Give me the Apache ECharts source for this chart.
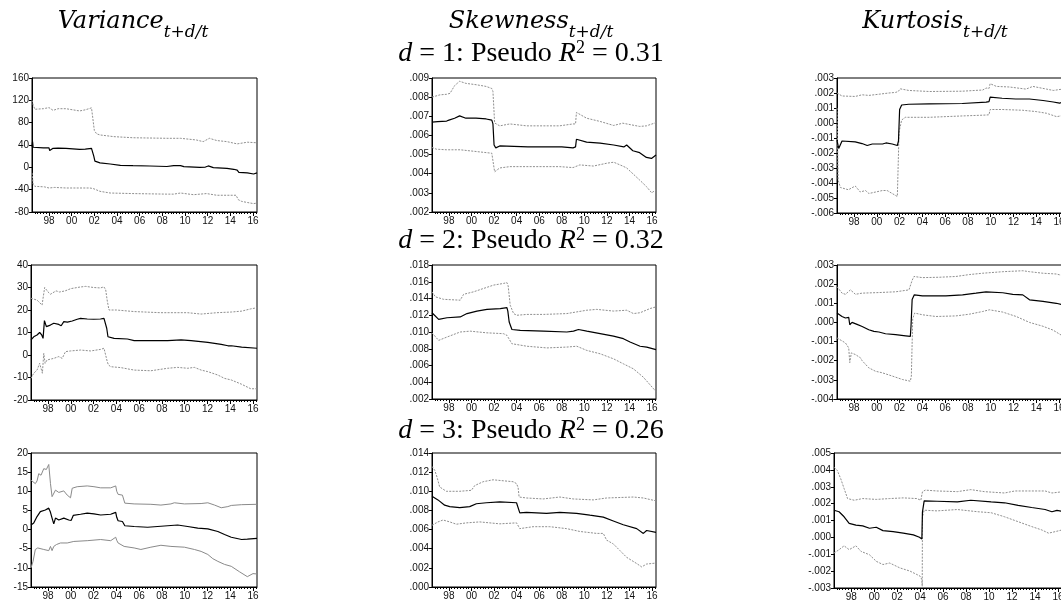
<!DOCTYPE html>
<html><head><meta charset="utf-8">
<script src="https://cdn.jsdelivr.net/npm/echarts@6/dist/echarts.min.js"></script>
<style>html,body{margin:0;padding:0;background:#fff}#c{width:1061px;height:603px}</style>
</head><body><div id="c"></div><script>
// ---- tick labels / titles ----
const xTickYears = [1998,2000,2002,2004,2006,2008,2010,2012,2014,2016];
const xTickText  = ['98','00','02','04','06','08','10','12','14','16'];
const colTitles = ['Variance','Skewness','Kurtosis'];
const subText = 't+d/t';
const rowD = ['1','2','3'];
const rowR2 = ['0.31','0.32','0.26'];

// ---- d = 1 ----
const var1Mid = [[1996.5,37],[1996.55,46],[1996.6,36],[1996.7,35],[1997.5,35],[1998.0,35],[1998.06,30],[1998.36,34],[1998.8,34.5],[1999.5,34],[2000.7,32],[2001.2,32.5],[2001.75,34],[2001.85,33],[2001.95,20],[2002.05,11],[2002.2,9],[2002.5,8],[2003.4,6],[2004.3,3.5],[2005.4,3],[2006.9,2.4],[2008.4,1.5],[2009.0,3],[2009.6,3],[2009.9,1.2],[2011.3,0],[2011.8,0.5],[2012.05,2.5],[2012.5,-0.6],[2013.7,-2],[2014.3,-3.5],[2014.6,-5],[2014.75,-9],[2015.5,-10],[2016.05,-12],[2016.35,-10]];
const var1Up = [[1996.5,120],[1996.6,112],[1996.75,104],[1996.9,104],[1997.5,105],[1998.0,107],[1998.36,102],[1998.8,105],[1999.5,105],[2000.7,101],[2001.2,103],[2001.75,106.5],[2001.9,104],[2002.0,66],[2002.2,60],[2002.5,58],[2003.7,55],[2005.4,53],[2008.4,52],[2009.6,52],[2011.0,49],[2011.6,46],[2012.15,52],[2012.8,48],[2013.7,46],[2014.6,42],[2015.5,45],[2016.35,44]];
const var1Lo = [[1996.5,-10],[1996.6,-30],[1996.75,-34],[1997.6,-35],[1998.0,-37],[1998.06,-40],[1998.5,-36],[1999.5,-37],[2001.6,-37],[2001.9,-38],[2002.5,-43],[2003.4,-46],[2005.4,-47],[2008.4,-48],[2009.0,-48],[2009.6,-46],[2010.75,-49],[2011.9,-47],[2012.8,-50],[2014.5,-50],[2014.7,-58],[2015.0,-61],[2015.5,-63],[2016.05,-65],[2016.35,-64]];

const skw1Mid = [[1996.5,.0067],[1997.0,.00672],[1997.8,.00675],[1998.0,.0068],[1998.5,.0069],[1998.95,.00702],[1999.5,.0069],[2000.4,.0069],[2001.3,.00686],[2001.8,.0068],[2001.9,.0066],[2002.0,.0055],[2002.15,.00535],[2002.5,.00545],[2005,.0054],[2008,.0054],[2009.0,.00535],[2009.22,.0054],[2009.3,.0058],[2010.2,.00565],[2011.4,.0056],[2012.6,.0055],[2013.5,.0054],[2013.75,.0055],[2014.3,.0052],[2014.9,.0051],[2015.5,.00485],[2015.95,.0048],[2016.35,.00498]];
const skw1Up = [[1996.5,.0080],[1997.2,.00812],[1997.8,.00815],[1998.1,.0082],[1998.5,.0086],[1998.95,.00883],[1999.5,.00872],[2000.4,.00865],[2001.3,.00856],[2001.8,.00845],[2001.9,.0083],[2002.05,.00665],[2002.5,.0065],[2003.4,.0066],[2004.9,.0065],[2007.8,.0065],[2009.0,.0066],[2009.22,.0066],[2009.3,.0072],[2010.2,.0069],[2011.4,.00673],[2012.6,.00652],[2013.4,.00664],[2014.9,.00647],[2015.5,.0065],[2016.35,.00667]];
const skw1Lo = [[1996.5,.00537],[1996.9,.00528],[1997.8,.00525],[1999.0,.00525],[2000.4,.00516],[2001.8,.00507],[2001.9,.0050],[2002.05,.0041],[2002.5,.0043],[2003.4,.00437],[2007.8,.00437],[2009.0,.00432],[2009.6,.00446],[2010.8,.0044],[2012.0,.00455],[2012.6,.0046],[2013.4,.0044],[2013.75,.0043],[2014.3,.0040],[2014.9,.00367],[2015.5,.00333],[2015.97,.0030],[2016.35,.00316]];

const krt1Mid = [[1996.5,-.00115],[1996.65,-.0017],[1996.94,-.0012],[1998.1,-.00126],[1998.7,-.00137],[1999.15,-.0015],[1999.6,-.0014],[2000.5,-.0014],[2000.8,-.00133],[2001.35,-.0014],[2001.8,-.0015],[2001.9,-.0012],[2002.0,.0009],[2002.18,.0012],[2002.8,.00125],[2004.6,.00127],[2007.5,.0013],[2009.6,.00139],[2009.85,.00143],[2009.95,.00172],[2011.0,.00165],[2012.2,.0016],[2013.4,.0016],[2014.6,.0015],[2015.5,.0014],[2016.05,.00132],[2016.3,.0014]];
const krt1Up = [[1996.5,.0020],[1996.94,.0018],[1998.1,.00177],[1998.7,.00188],[1999.3,.00184],[2000.2,.00192],[2001.06,.002],[2001.65,.00204],[2001.88,.0021],[2002.05,.00228],[2002.8,.00217],[2004.6,.0021],[2007.5,.00212],[2009.3,.0022],[2009.6,.00233],[2009.85,.0023],[2009.95,.00262],[2010.5,.00244],[2011.65,.0024],[2013.1,.00226],[2013.7,.00244],[2014.9,.00226],[2015.5,.00217],[2016.3,.00226]];
const krt1Lo = [[1996.5,.001],[1996.6,-.0038],[1996.8,-.0043],[1997.5,-.00445],[1998.1,-.0042],[1998.55,-.0046],[1999.0,-.0045],[1999.3,-.0047],[1999.9,-.0046],[2000.5,-.0045],[2000.9,-.0045],[2001.35,-.0047],[2001.8,-.0049],[2001.88,-.005],[2001.95,-.0006],[2002.18,.0002],[2002.5,.00038],[2004.6,.00038],[2007.5,.00047],[2009.6,.00053],[2009.85,.00055],[2009.95,.0009],[2011.0,.0009],[2012.8,.00085],[2014.0,.00076],[2014.9,.00065],[2015.8,.00042],[2016.3,.0005]];

// ---- d = 2 ----
const var2Mid = [[1996.5,6.7],[1996.74,8.1],[1997.03,8.9],[1997.26,10],[1997.44,8.9],[1997.56,7.4],[1997.62,8],[1997.68,15.3],[1997.85,12.6],[1998.2,13.3],[1998.5,14.1],[1998.94,13.6],[1999.15,13],[1999.38,14.8],[1999.7,14.6],[2000.12,15.1],[2000.56,15.9],[2000.85,16.3],[2001.44,16],[2002.0,15.9],[2002.6,16],[2002.91,16.3],[2003.06,15.5],[2003.15,11.9],[2003.26,8.1],[2003.8,7.4],[2004.97,7.1],[2005.56,6.4],[2008.5,6.4],[2009.68,6.7],[2010.56,6.4],[2012.03,5.6],[2013.21,4.7],[2013.8,4.1],[2014.1,4.1],[2015.0,3.5],[2016.35,3.0]];
const var2Up = [[1996.5,25.2],[1997.03,24.4],[1997.47,22.2],[1997.6,23],[1997.7,30],[1998.0,28],[1998.2,27],[1998.7,28.5],[1999.0,28],[1999.5,28.5],[2000.0,29.5],[2000.8,30.2],[2001.3,30.5],[2002.0,30],[2002.6,29.8],[2002.9,30.3],[2003.06,29],[2003.2,24],[2003.35,20],[2004,20],[2005.56,19.3],[2007.9,18.8],[2010.26,18.8],[2011.44,18.2],[2012.82,18.8],[2014.1,19.1],[2015.0,19.5],[2015.8,20.5],[2016.35,21]];
const var2Lo = [[1996.5,-10.4],[1996.74,-8.1],[1997.03,-6.7],[1997.26,-3.7],[1997.38,-5.9],[1997.5,-8.1],[1997.62,0.7],[1997.74,-3.7],[1997.91,-2.2],[1998.5,-1.5],[1998.94,-0.7],[1999.24,-1.5],[1999.53,1.5],[1999.97,1.8],[2000.85,2.2],[2001.74,1.8],[2002.62,2.5],[2002.91,3],[2003.06,2.2],[2003.2,-3],[2003.3,-4.4],[2003.5,-5.2],[2004.38,-5.6],[2005.56,-6.7],[2007.03,-7],[2008.5,-5.9],[2009.38,-5.5],[2010.26,-5.9],[2010.85,-5.5],[2011.44,-6.7],[2012.03,-7.4],[2012.91,-8.9],[2013.5,-10.4],[2014.09,-11.1],[2015.0,-13],[2015.8,-15],[2016.35,-15]];

const skw2Mid = [[1996.5,.0123],[1997.09,.0115],[1997.83,.0117],[1999.0,.0118],[1999.6,.0122],[2000.48,.0125],[2001.37,.0127],[2002.55,.0128],[2003.14,.0129],[2003.22,.0125],[2003.34,.0112],[2003.58,.0103],[2004.32,.0102],[2006.38,.0101],[2008.45,.010],[2009.04,.0101],[2009.48,.0103],[2010.22,.0101],[2011.4,.0098],[2012.58,.0095],[2013.46,.0092],[2014.05,.0088],[2014.94,.0083],[2015.53,.0082],[2016.35,.0079]];
const skw2Up = [[1996.5,.0148],[1996.8,.0142],[1997.53,.0139],[1999.0,.0138],[1999.3,.0145],[2000.19,.0148],[2001.07,.0152],[2001.96,.0156],[2002.84,.0158],[2003.14,.0159],[2003.25,.0155],[2003.43,.0132],[2003.73,.0122],[2004.02,.012],[2004.91,.0121],[2006.38,.0121],[2008.45,.0122],[2009.33,.0124],[2010.22,.0126],[2011.1,.0127],[2012.58,.0125],[2013.76,.0126],[2014.35,.0122],[2014.94,.0123],[2015.82,.0128],[2016.35,.013]];
const skw2Lo = [[1996.5,.0099],[1997.09,.009],[1997.83,.0094],[1999.0,.010],[1999.89,.0101],[2001.37,.0099],[2002.84,.0098],[2003.14,.0096],[2003.28,.0094],[2003.58,.0086],[2004.91,.0083],[2006.68,.0081],[2008.45,.0082],[2009.33,.0083],[2010.22,.0078],[2011.4,.0074],[2012.58,.0068],[2013.46,.0062],[2014.35,.0056],[2015.23,.0046],[2015.82,.0037],[2016.35,.0029]];

const krt2Mid = [[1996.5,.00049],[1996.94,.00031],[1997.24,.00023],[1997.53,.00026],[1997.62,-.00012],[1997.82,.0000],[1998.26,-.0001],[1998.71,-.00021],[1999.29,-.00038],[1999.74,-.00047],[2000.18,-.0005],[2000.76,-.00059],[2001.65,-.00064],[2002.53,-.0007],[2002.94,-.00073],[2003.0,-.0002],[2003.1,.0012],[2003.29,.00144],[2004.0,.00139],[2006.06,.00139],[2007.53,.00144],[2008.71,.00153],[2009.59,.0016],[2011.06,.00155],[2011.94,.00147],[2012.82,.00144],[2013.41,.00118],[2014.59,.0011],[2015.76,.001],[2016.3,.00092]];
const krt2Up = [[1996.5,.00187],[1996.94,.00153],[1997.24,.00147],[1997.68,.0017],[1998.12,.00147],[1998.71,.00153],[2000.18,.00156],[2001.65,.0016],[2002.82,.0017],[2002.97,.0017],[2003.1,.0022],[2003.26,.0024],[2004.0,.00234],[2005.47,.00236],[2006.94,.0024],[2008.12,.0025],[2009.29,.00257],[2011.06,.00265],[2012.82,.0027],[2013.41,.00265],[2014.59,.00257],[2015.76,.00253],[2016.3,.00245]];
const krt2Lo = [[1996.5,-.00081],[1997.24,-.00107],[1997.53,-.00133],[1997.62,-.0021],[1997.76,-.00159],[1998.12,-.00168],[1998.56,-.00185],[1998.71,-.002],[1999.29,-.00237],[1999.88,-.00255],[2000.47,-.00263],[2001.35,-.0028],[2002.24,-.00298],[2002.94,-.00307],[2003.03,-.0028],[2003.15,.0002],[2003.32,.00049],[2004.0,.0004],[2005.18,.00031],[2006.94,.00034],[2008.12,.00043],[2009.29,.00057],[2009.88,.00066],[2011.06,.00054],[2012.24,.00031],[2013.41,.0000],[2014.59,-.0002],[2015.47,-.0004],[2016.3,-.0007]];

// ---- d = 3 ----
const var3Mid = [[1996.5,1.2],[1996.74,1.7],[1997.03,3.4],[1997.32,4.7],[1997.76,5.1],[1998.06,5.6],[1998.15,5.7],[1998.21,4.5],[1998.35,3],[1998.5,1.5],[1998.65,3],[1998.94,2.5],[1999.38,3],[1999.82,2.5],[2000.03,2.4],[2000.21,3.7],[2000.85,4],[2001.44,4.3],[2002.03,4.1],[2002.62,3.8],[2003.5,4],[2003.94,4.5],[2004.03,3.2],[2004.15,2.3],[2004.53,2.1],[2004.74,1],[2005.56,0.8],[2006.74,0.6],[2008.5,1],[2009.38,1.2],[2010.26,0.8],[2011.15,0.4],[2012.03,0.2],[2012.91,-0.5],[2013.5,-1.3],[2014.09,-2],[2015.0,-2.6],[2015.5,-2.5],[2016.35,-2.3]];
const var3Up = [[1996.5,12.9],[1996.88,12],[1997.03,12.7],[1997.18,14.6],[1997.38,14.2],[1997.62,15.9],[1997.85,15.7],[1998.06,17],[1998.15,16.8],[1998.21,12],[1998.35,8.6],[1998.5,8.3],[1998.65,10.3],[1998.94,9.7],[1999.38,10.1],[1999.68,9],[1999.97,8.3],[2000.12,10.8],[2000.56,11.2],[2001.44,11.4],[2002.03,11.2],[2002.62,10.9],[2003.5,10.9],[2003.94,11.4],[2004.03,10],[2004.15,9.2],[2004.53,9.0],[2004.74,6.9],[2005.56,6.7],[2007.03,6.6],[2007.91,6.4],[2008.79,6.7],[2009.09,7],[2009.97,6.7],[2011.44,6.8],[2012.03,7],[2012.62,6.4],[2013.21,5.7],[2013.79,6],[2014.09,6.3],[2015.0,6.5],[2016.35,6.6]];
const var3Lo = [[1996.5,-10],[1996.68,-8.3],[1996.88,-5.2],[1997.09,-4.8],[1997.62,-5.2],[1998.06,-5.5],[1998.21,-4.4],[1998.35,-5.5],[1998.5,-4.4],[1998.74,-3.9],[1999.09,-3.5],[1999.68,-3.5],[2000.26,-3.1],[2001.44,-2.9],[2002.62,-2.6],[2003.5,-2.9],[2003.94,-2.0],[2004.03,-2.8],[2004.15,-3.5],[2004.68,-4.4],[2005.56,-4.8],[2006.15,-5.2],[2007.03,-4.6],[2007.91,-4.1],[2008.79,-4.4],[2009.97,-4.6],[2010.85,-5.2],[2011.44,-5.7],[2012.03,-6.5],[2012.47,-7.6],[2012.62,-7.2],[2012.91,-8.3],[2013.5,-9.1],[2014.09,-9.6],[2014.8,-11],[2015.5,-12.3],[2016.0,-11.5],[2016.35,-11.6]];

const skw3Mid = [[1996.5,.00948],[1997.03,.0091],[1997.62,.00855],[1998.07,.0084],[1998.96,.0083],[1999.84,.0084],[2000.43,.0087],[2001.32,.0088],[2002.51,.0089],[2003.99,.0088],[2004.13,.0086],[2004.28,.00774],[2004.87,.0078],[2006.65,.0077],[2007.83,.0078],[2009.31,.0077],[2010.49,.0075],[2011.68,.0073],[2012.57,.0069],[2013.45,.0065],[2014.64,.0061],[2015.23,.0056],[2015.52,.0059],[2016.35,.0057]];
const skw3Up = [[1996.5,.0126],[1996.74,.0122],[1996.94,.0115],[1997.18,.01045],[1997.77,.010],[1998.96,.010],[1999.99,.0101],[2000.29,.0106],[2001.03,.011],[2001.91,.0112],[2002.8,.0111],[2003.69,.011],[2003.99,.0108],[2004.13,.0104],[2004.22,.0094],[2004.87,.0093],[2006.35,.0092],[2007.83,.0094],[2009.01,.0092],[2010.79,.0091],[2011.97,.0093],[2014.34,.0094],[2015.23,.0093],[2016.35,.009]];
const skw3Lo = [[1996.5,.00645],[1997.03,.0068],[1997.48,.007],[1998.07,.0068],[1998.66,.00656],[1999.55,.0067],[2000.73,.0068],[2002.51,.0066],[2003.99,.0067],[2004.13,.0065],[2004.28,.0061],[2005.46,.0063],[2006.94,.0063],[2008.42,.0061],[2009.61,.0058],[2011.09,.0056],[2011.68,.0056],[2011.97,.0049],[2012.57,.0045],[2013.16,.0038],[2013.75,.0031],[2014.64,.00245],[2015.08,.0021],[2015.52,.0024],[2016.35,.0025]];

const krt3Mid = [[1996.5,.00161],[1996.94,.00152],[1997.38,.00122],[1997.82,.00083],[1998.41,.00073],[1999.0,.00068],[1999.59,.00054],[2000.18,.0006],[2000.76,.0004],[2001.65,.00034],[2002.53,.00025],[2003.41,.00015],[2003.94,.00001],[2004.15,-.0001],[2004.2,.0015],[2004.35,.00216],[2005.47,.00214],[2007.24,.0021],[2008.41,.0022],[2010.18,.0021],[2011.35,.00205],[2012.53,.0019],[2013.71,.00177],[2014.88,.00165],[2015.47,.00152],[2015.91,.0016],[2016.35,.00155]];
const krt3Up = [[1996.5,.00416],[1996.79,.00396],[1997.09,.00347],[1997.38,.00289],[1997.68,.0023],[1998.26,.0022],[1999.0,.0023],[2000.18,.00225],[2001.35,.0023],[2002.53,.00234],[2003.71,.0023],[2004.06,.0022],[2004.2,.0027],[2004.44,.0028],[2005.47,.00275],[2007.24,.00271],[2008.41,.00283],[2009.59,.00271],[2011.35,.00263],[2012.24,.00275],[2013.71,.00275],[2014.88,.00275],[2015.47,.00263],[2016.35,.0027]];
const krt3Lo = [[1996.5,-.00093],[1996.94,-.00073],[1997.38,-.0005],[1997.82,-.00073],[1998.41,-.0005],[1998.85,-.00083],[1999.59,-.00103],[2000.18,-.00142],[2000.76,-.00161],[2001.35,-.00152],[2002.24,-.00181],[2003.12,-.002],[2003.71,-.0022],[2004.0,-.0023],[2004.15,-.0025],[2004.18,-.0029],[2004.2,.0012],[2004.35,.00161],[2005.47,.00157],[2007.24,.00165],[2009.0,.00152],[2010.18,.00146],[2011.35,.00122],[2012.53,.00093],[2013.71,.00064],[2014.59,.00044],[2015.18,.00025],[2015.76,.00034],[2016.35,.00044]];

// ---- panel layout (row-major) ----
const panels = [
  {box:[32,78,225,134],  y:[-80,160,40],    dec:false, mid:var1Mid, up:var1Up, lo:var1Lo, solid:false},
  {box:[432,78,224,134], y:[.002,.009,.001], dec:true,  mid:skw1Mid, up:skw1Up, lo:skw1Lo, solid:false},
  {box:[837,78,226,135], y:[-.006,.003,.001],dec:true,  mid:krt1Mid, up:krt1Up, lo:krt1Lo, solid:false},
  {box:[31,265,226,135], y:[-20,40,10],     dec:false, mid:var2Mid, up:var2Up, lo:var2Lo, solid:false},
  {box:[432,265,224,134],y:[.002,.018,.002], dec:true,  mid:skw2Mid, up:skw2Up, lo:skw2Lo, solid:false},
  {box:[837,265,226,134],y:[-.004,.003,.001],dec:true,  mid:krt2Mid, up:krt2Up, lo:krt2Lo, solid:false},
  {box:[31,453,226,134], y:[-15,20,5],      dec:false, mid:var3Mid, up:var3Up, lo:var3Lo, solid:true},
  {box:[432,453,224,134],y:[0,.014,.002],    dec:true,  mid:skw3Mid, up:skw3Up, lo:skw3Lo, solid:false},
  {box:[834,453,228,135],y:[-.003,.005,.001],dec:true,  mid:krt3Mid, up:krt3Up, lo:krt3Lo, solid:false}
];

const X0 = 1996.5, X1 = 2016.35;
const quarterTicks = [];
for (let q = 1; q <= 79; q++) quarterTicks.push(1996.5 + q * 0.25);

function decFmt(v){ if (Math.abs(v) < 1e-10) return '.000'; return v.toFixed(3).replace('0.', '.'); }

const grid = [], xAxis = [], yAxis = [], series = [];
const labelFont = {fontFamily:'Liberation Sans, Arial, sans-serif', fontSize:10, color:'#111'};
panels.forEach((p, i) => {
  grid.push({left:p.box[0], top:p.box[1], width:p.box[2], height:p.box[3], show:true,
    borderColor:'#000', borderWidth:1, backgroundColor:'#fff', containLabel:false, outerBoundsMode:'none'});
  xAxis.push({gridIndex:i, type:'value', min:X0, max:X1, position:'bottom',
    axisLine:{show:true, onZero:false, lineStyle:{color:'#000', width:1}},
    axisTick:{show:true, inside:false, length:4, customValues:xTickYears, lineStyle:{color:'#000'}},
    axisLabel:Object.assign({show:true, margin:4, customValues:xTickYears,
      formatter:v => xTickText[xTickYears.indexOf(Math.round(v))] || ''}, labelFont),
    splitLine:{show:false}});
  xAxis.push({gridIndex:i, type:'value', min:X0, max:X1, position:'bottom',
    axisLine:{show:false, onZero:false}, axisLabel:{show:false}, splitLine:{show:false},
    axisTick:{show:true, inside:false, length:2, customValues:quarterTicks, lineStyle:{color:'#000'}}});
  yAxis.push({gridIndex:i, type:'value', min:p.y[0], max:p.y[1], interval:p.y[2],
    axisLine:{show:true, onZero:false, lineStyle:{color:'#000', width:1}},
    axisTick:{show:true, inside:false, length:3, lineStyle:{color:'#000'}},
    axisLabel:Object.assign({margin:3, formatter:v => p.dec ? decFmt(v) : String(Math.round(v))}, labelFont),
    splitLine:{show:false}});
  const band = {color: p.solid ? '#8a8a8a' : '#8f8f8f', width:1, type: p.solid ? 'solid' : [2,1.3]};
  [p.up, p.lo].forEach(d => series.push({type:'line', xAxisIndex:2*i, yAxisIndex:i, data:d,
    showSymbol:false, symbol:'none', lineStyle:band, z:2, silent:true}));
  series.push({type:'line', xAxisIndex:2*i, yAxisIndex:i, data:p.mid, showSymbol:false, symbol:'none',
    lineStyle:{color:'#000', width:1.2}, z:3, silent:true});
});

// ---- titles ----
const titleX = [133, 531, 935];
const graphic = [];
colTitles.forEach((t, c) => {
  graphic.push({type:'text', x:titleX[c], y:10, silent:true, style:{
    text:'{m|' + t + '}{s|' + subText + '}', align:'center', verticalAlign:'top',
    textAlign:'center', textVerticalAlign:'top', fill:'#000',
    rich:{
      m:{fontFamily:'DejaVu Serif', fontStyle:'italic', fontSize:24, lineHeight:31, verticalAlign:'top', fill:'#000'},
      s:{fontFamily:'DejaVu Serif', fontStyle:'italic', fontSize:17, verticalAlign:'bottom', fill:'#000'}
    }}});
});
const rowY = [39, 226, 416];
rowD.forEach((d, r) => {
  graphic.push({type:'text', x:531, y:rowY[r], silent:true, style:{
    text:'{i|d}{n| = ' + d + ': Pseudo }{i|R}{s|2}{n| = ' + rowR2[r] + '}',
    align:'center', verticalAlign:'top', textAlign:'center', textVerticalAlign:'top', fill:'#000',
    rich:{
      i:{fontFamily:'Liberation Serif', fontStyle:'italic', fontSize:28, lineHeight:30, fill:'#000'},
      n:{fontFamily:'Liberation Serif', fontSize:28, lineHeight:30, fill:'#000'},
      s:{fontFamily:'Liberation Serif', fontSize:18, verticalAlign:'top', fill:'#000'}
    }}});
});

const chart = echarts.init(document.getElementById('c'), null, {renderer:'canvas'});
chart.setOption({animation:false, backgroundColor:'#fff', grid, xAxis, yAxis, series, graphic});
</script></body></html>
